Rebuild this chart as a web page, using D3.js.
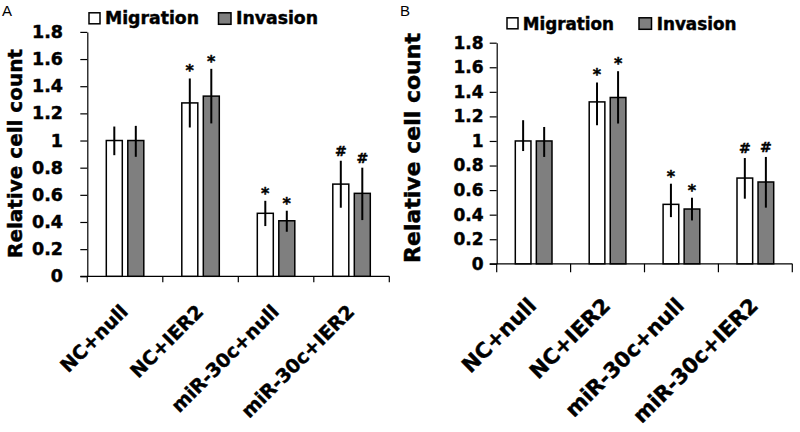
<!DOCTYPE html>
<html><head><meta charset="utf-8">
<script src="https://cdn.jsdelivr.net/npm/d3@7"></script>
<style>body{margin:0;background:#fff} svg{display:block}</style>
</head><body>
<svg id="chart" width="800" height="432"></svg>
<script>
// ---------- data ----------
const categories = ["NC+null", "NC+IER2", "miR-30c+null", "miR-30c+IER2"];
const seriesNames = ["Migration", "Invasion"];
const yTicks = [0, 0.2, 0.4, 0.6, 0.8, 1, 1.2, 1.4, 1.6, 1.8];
const marks = ["", "*", "*", "#"];

// Panel A
const migrationA = [1.00, 1.277, 0.464, 0.679];
const migrationAErrUp = [0.103, 0.18, 0.092, 0.172];
const migrationAErrDown = [0.108, 0.181, 0.094, 0.174];
const invasionA = [1.00, 1.327, 0.409, 0.611];
const invasionAErrUp = [0.108, 0.201, 0.074, 0.189];
const invasionAErrDown = [0.12, 0.201, 0.081, 0.197];

// Panel B
const migrationB = [1.00, 1.318, 0.484, 0.698];
const migrationBErrUp = [0.169, 0.158, 0.168, 0.163];
const migrationBErrDown = [0.082, 0.19, 0.104, 0.168];
const invasionB = [1.00, 1.354, 0.446, 0.666];
const invasionBErrUp = [0.114, 0.214, 0.092, 0.204];
const invasionBErrDown = [0.13, 0.212, 0.093, 0.209];

// ---------- drawing ----------
const svg = d3.select("#chart");
const FONT = "'DejaVu Sans', sans-serif";
const fills = ["#ffffff", "#7f7f7f"];

function heavy(sel) {
  return sel.attr("font-family", FONT).attr("font-weight", "bold")
    .attr("fill", "#000").attr("stroke", "#000").attr("stroke-width", 0.45)
    .attr("paint-order", "stroke");
}

function drawPanel(p, series) {
  const g = svg.append("g");
  const x0 = d3.scaleBand().domain(categories).range([p.left, p.right]).padding(0);
  const x1 = d3.scaleBand().domain(seriesNames).range([0, x0.bandwidth()])
    .paddingInner(0.256).paddingOuter(0.884);
  const y = d3.scaleLinear().domain([0, 1.8]).range([p.bottom, p.top]);

  // panel letter
  svg.append("text").attr("x", p.letterX).attr("y", 16)
    .attr("font-family", "'Liberation Sans', Arial, sans-serif").attr("font-size", 15)
    .text(p.letter);

  // y axis
  const yAxis = d3.axisLeft(y).tickValues(yTicks).tickSize(7).tickSizeOuter(0)
    .tickPadding(p.tickPad).tickFormat(d => String(d));
  const ya = g.append("g").attr("transform", `translate(${p.left},0)`).call(yAxis);
  ya.selectAll("path,line").attr("stroke", "#000").attr("stroke-width", 1.2);
  heavy(ya.selectAll("text")).attr("font-size", p.tickFont);

  // y title
  heavy(g.append("text")
    .attr("transform", `translate(${p.titleX},${p.titleY}) rotate(-90)`)
    .attr("text-anchor", "middle").attr("font-size", p.titleFont))
    .text("Relative cell count");

  // x axis line
  g.append("line").attr("x1", p.left - 7).attr("x2", p.right)
    .attr("y1", y(0)).attr("y2", y(0)).attr("stroke", "#000").attr("stroke-width", 1.2);
  const boundaries = categories.map(c => x0(c)).concat([x0(categories[3]) + x0.bandwidth()]);
  g.selectAll(".xt").data(boundaries).enter().append("line")
    .attr("x1", d => d).attr("x2", d => d)
    .attr("y1", y(0)).attr("y2", y(0) + p.xTick)
    .attr("stroke", "#000").attr("stroke-width", 1.2);

  // category labels
  heavy(g.selectAll(".xl").data(categories).enter().append("text")
    .attr("transform", c => `translate(${x0(c) + x0.bandwidth() / 2 + 4},${y(0) + p.labelDy}) rotate(-45)`)
    .attr("text-anchor", "end").attr("font-size", p.labelFont))
    .text(c => c);

  // bars, error bars, marks
  series.forEach((s, si) => {
    const name = seriesNames[si];
    const rows = categories.map((c, i) => ({c, v: s.values[i], up: s.up[i], dn: s.down[i], m: marks[i]}));
    const sg = g.append("g");
    sg.selectAll("rect").data(rows).enter().append("rect")
      .attr("x", d => x0(d.c) + x1(name)).attr("y", d => y(d.v))
      .attr("width", x1.bandwidth()).attr("height", d => y(0) - y(d.v))
      .attr("fill", fills[si]).attr("stroke", "#000").attr("stroke-width", 1.5);
    sg.selectAll("line").data(rows).enter().append("line")
      .attr("x1", d => x0(d.c) + x1(name) + x1.bandwidth() / 2)
      .attr("x2", d => x0(d.c) + x1(name) + x1.bandwidth() / 2)
      .attr("y1", d => y(d.v + d.up)).attr("y2", d => y(d.v - d.dn))
      .attr("stroke", "#000").attr("stroke-width", 2);
    heavy(sg.selectAll("text").data(rows.filter(d => d.m)).enter().append("text")
      .attr("x", d => x0(d.c) + x1(name) + x1.bandwidth() / 2)
      .attr("y", d => y(d.v + d.up) - (d.m === "*" ? 2 : 5))
      .attr("text-anchor", "middle")
      .attr("font-size", d => d.m === "*" ? 16 : 14))
      .text(d => d.m);
  });

  // legend
  const L = p.legend;
  svg.append("rect").attr("x", L.x1).attr("y", L.y).attr("width", 11).attr("height", 11)
    .attr("fill", fills[0]).attr("stroke", "#000").attr("stroke-width", 1.5);
  heavy(svg.append("text").attr("x", L.t1).attr("y", L.base).attr("font-size", L.font))
    .text(seriesNames[0]);
  svg.append("rect").attr("x", L.x2).attr("y", L.y).attr("width", 12.5).attr("height", 11.5)
    .attr("fill", fills[1]).attr("stroke", "#000").attr("stroke-width", 1.5);
  heavy(svg.append("text").attr("x", L.t2).attr("y", L.base).attr("font-size", L.font))
    .text(seriesNames[1]);
}

drawPanel({
  letter: "A", letterX: 2,
  left: 87.3, right: 389.3, top: 31.9, bottom: 276.3,
  tickPad: 17.3, tickFont: 17.5, titleX: 22.3, titleY: 153.5, titleFont: 20,
  xTick: 6, labelDy: 36.5, labelFont: 19,
  legend: {x1: 89, x2: 218.5, y: 12.8, t1: 105, t2: 236, base: 24.2, font: 17.3}
}, [
  {values: migrationA, up: migrationAErrUp, down: migrationAErrDown},
  {values: invasionA, up: invasionAErrUp, down: invasionAErrDown}
]);

drawPanel({
  letter: "B", letterX: 400,
  left: 496.7, right: 792.3, top: 42.7, bottom: 263.8,
  tickPad: 6.2, tickFont: 17, titleX: 419.7, titleY: 148, titleFont: 22,
  xTick: 8.5, labelDy: 43, labelFont: 21,
  legend: {x1: 507, x2: 639, y: 17.8, t1: 522.7, t2: 656.7, base: 29.6, font: 16.8}
}, [
  {values: migrationB, up: migrationBErrUp, down: migrationBErrDown},
  {values: invasionB, up: invasionBErrUp, down: invasionBErrDown}
]);
</script>
</body></html>
